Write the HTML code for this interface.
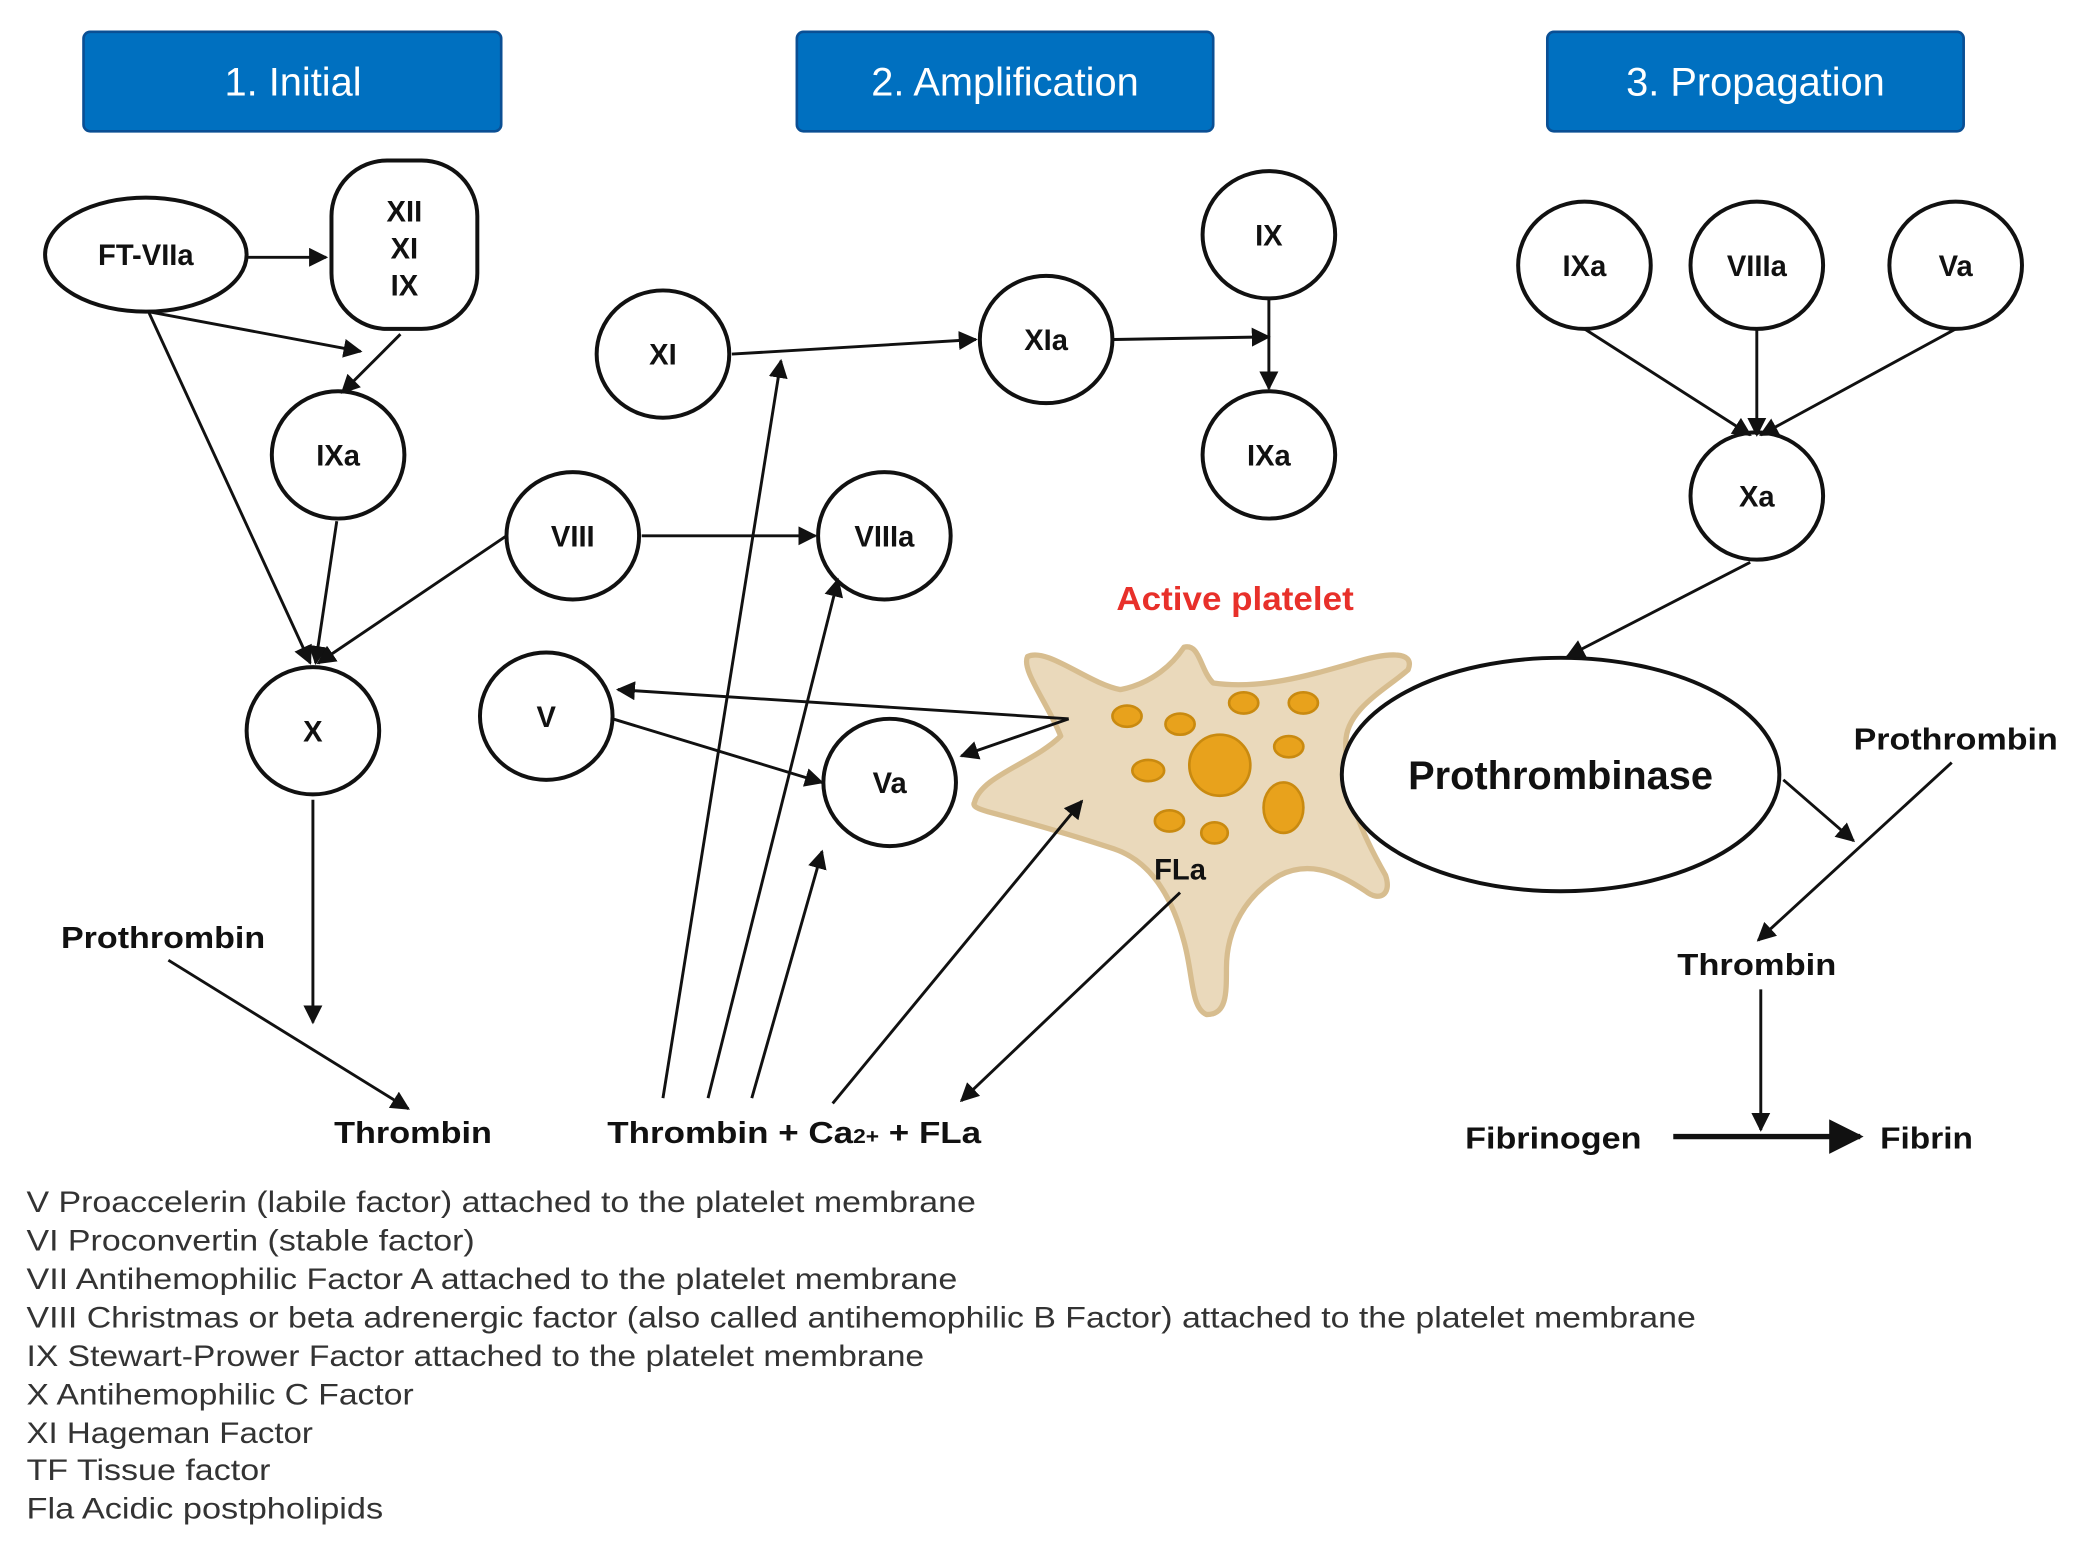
<!DOCTYPE html>
<html><head><meta charset="utf-8"><style>
html,body{margin:0;padding:0;background:#fff;}
svg{display:block;}
text{font-family:"Liberation Sans Narrow","Liberation Sans",sans-serif;}
.n{font-weight:bold;font-size:22px;fill:#111;text-anchor:middle;}
.l{font-weight:bold;font-size:23px;fill:#111;}
.lg{font-size:22px;fill:#333;}
.h{font-size:30px;fill:#fff;text-anchor:middle;}
</style></head><body>
<svg width="2079" height="1557" viewBox="0 0 1568 1174" preserveAspectRatio="none" xmlns="http://www.w3.org/2000/svg">
<defs>
<marker id="a" viewBox="0 0 10 10" refX="9" refY="5" markerWidth="6.5" markerHeight="6.5" orient="auto-start-reverse"><path d="M0,0L10,5L0,10z" fill="#111"/></marker>
</defs>
<g stroke="#0a4f94" stroke-width="2" fill="#0070c0">
<rect x="63" y="24" width="315" height="75" rx="5"/>
<rect x="601" y="24" width="314" height="75" rx="5"/>
<rect x="1167" y="24" width="314" height="75" rx="5"/>
</g>
<text class="h" x="221" y="72">1. Initial</text>
<text class="h" x="758" y="72">2. Amplification</text>
<text class="h" x="1324" y="72">3. Propagation</text>

<g fill="#ead9bb" stroke="#d7bd8f" stroke-width="4" stroke-linejoin="round">
<path d="M735,605 C740,585 780,575 800,555 C790,530 770,505 775,495 C790,488 820,515 845,520 C870,515 885,500 893,488 C905,485 905,505 915,515 C950,520 985,510 1020,500 C1045,492 1068,490 1062,505 C1045,520 1015,535 1015,560 C1015,600 1025,625 1045,660 C1050,675 1040,680 1030,672 C1005,655 985,650 965,660 C940,675 925,700 925,730 C925,750 925,765 910,765 C898,760 900,735 893,710 C885,680 870,650 840,640 C810,630 775,620 745,612 C738,610 733,608 735,605 Z"/>
</g>
<g fill="#e8a21c" stroke="#c98a10" stroke-width="2">
<circle cx="920" cy="577" r="23"/>
<ellipse cx="968" cy="609" rx="15" ry="19"/>
<ellipse cx="850" cy="540" rx="11" ry="8"/>
<ellipse cx="890" cy="546" rx="11" ry="8"/>
<ellipse cx="938" cy="530" rx="11" ry="8"/>
<ellipse cx="983" cy="530" rx="11" ry="8"/>
<ellipse cx="972" cy="563" rx="11" ry="8"/>
<ellipse cx="866" cy="581" rx="12" ry="8"/>
<ellipse cx="882" cy="619" rx="11" ry="8"/>
<ellipse cx="916" cy="628" rx="10" ry="8"/>
</g>
<text x="842" y="460" textLength="179" lengthAdjust="spacingAndGlyphs" style="font-weight:bold;font-size:25px;fill:#e8302a">Active platelet</text>
<text class="n" x="890" y="663">FLa</text>

<g fill="#fff" stroke="#111" stroke-width="3">
<ellipse cx="110" cy="192" rx="76" ry="43"/>
<rect x="250" y="121" width="110" height="127" rx="42"/>
<ellipse cx="255" cy="343" rx="50" ry="48"/>
<ellipse cx="236" cy="551" rx="50" ry="48"/>
<ellipse cx="432" cy="404" rx="50" ry="48"/>
<ellipse cx="500" cy="267" rx="50" ry="48"/>
<ellipse cx="789" cy="256" rx="50" ry="48"/>
<ellipse cx="957" cy="177" rx="50" ry="48"/>
<ellipse cx="957" cy="343" rx="50" ry="48"/>
<ellipse cx="667" cy="404" rx="50" ry="48"/>
<ellipse cx="412" cy="540" rx="50" ry="48"/>
<ellipse cx="671" cy="590" rx="50" ry="48"/>
<ellipse cx="1195" cy="200" rx="50" ry="48"/>
<ellipse cx="1325" cy="200" rx="50" ry="48"/>
<ellipse cx="1475" cy="200" rx="50" ry="48"/>
<ellipse cx="1325" cy="374" rx="50" ry="48"/>
<ellipse cx="1177" cy="584" rx="165" ry="88"/>
</g>
<text class="n" x="110" y="200">FT-VIIa</text>
<text class="n" x="305" y="167">XII</text>
<text class="n" x="305" y="195">XI</text>
<text class="n" x="305" y="223">IX</text>
<text class="n" x="255" y="351">IXa</text>
<text class="n" x="236" y="559">X</text>
<text class="n" x="432" y="412">VIII</text>
<text class="n" x="500" y="275">XI</text>
<text class="n" x="789" y="264">XIa</text>
<text class="n" x="957" y="185">IX</text>
<text class="n" x="957" y="351">IXa</text>
<text class="n" x="667" y="412">VIIIa</text>
<text class="n" x="412" y="548">V</text>
<text class="n" x="671" y="598">Va</text>
<text class="n" x="1195" y="208">IXa</text>
<text class="n" x="1325" y="208">VIIIa</text>
<text class="n" x="1475" y="208">Va</text>
<text class="n" x="1325" y="382">Xa</text>
<text class="n" x="1177" y="595" style="font-size:30px">Prothrombinase</text>

<g stroke="#111" stroke-width="2.2" fill="none" marker-end="url(#a)">
<path d="M187,194L246,194"/>
<path d="M112,235L272,265"/>
<path d="M302,252L258,296"/>
<path d="M112,235L234,500"/>
<path d="M254,393L238,500"/>
<path d="M382,404L240,500"/>
<path d="M236,603L236,771"/>
<path d="M127,724L308,836"/>
<path d="M484,404L615,404"/>
<path d="M552,267L736,256"/>
<path d="M840,256L957,254"/>
<path d="M957,226L957,293"/>
<path d="M500,828L589,272"/>
<path d="M534,828L632,437"/>
<path d="M567,828L620,642"/>
<path d="M628,832L816,604"/>
<path d="M890,673L725,830"/>
<path d="M806,542L466,520"/>
<path d="M806,542L725,570"/>
<path d="M462,542L620,590"/>
<path d="M1195,248L1320,328"/>
<path d="M1325,248L1325,328"/>
<path d="M1475,248L1328,328"/>
<path d="M1320,424L1182,495"/>
<path d="M1345,588L1398,634"/>
<path d="M1472,575L1326,709"/>
<path d="M1328,746L1328,852"/>
<path d="M1262,857L1403,857" stroke-width="4"/>
</g>

<text class="l" x="46" y="715" textLength="154" lengthAdjust="spacingAndGlyphs">Prothrombin</text>
<text class="l" x="252" y="862" textLength="119" lengthAdjust="spacingAndGlyphs">Thrombin</text>
<text class="l" x="458" y="862" textLength="282" lengthAdjust="spacingAndGlyphs">Thrombin + Ca<tspan style="font-size:15px">2+</tspan>  + FLa</text>
<text class="l" x="1398" y="565" textLength="154" lengthAdjust="spacingAndGlyphs">Prothrombin</text>
<text class="l" x="1265" y="735" textLength="120" lengthAdjust="spacingAndGlyphs">Thrombin</text>
<text class="l" x="1105" y="866" textLength="133" lengthAdjust="spacingAndGlyphs">Fibrinogen</text>
<text class="l" x="1418" y="866" textLength="70" lengthAdjust="spacingAndGlyphs">Fibrin</text>

<text class="lg" x="20" y="914" textLength="716" lengthAdjust="spacingAndGlyphs">V Proaccelerin (labile factor) attached to the platelet membrane</text>
<text class="lg" x="20" y="943" textLength="338" lengthAdjust="spacingAndGlyphs">VI Proconvertin (stable factor)</text>
<text class="lg" x="20" y="972" textLength="702" lengthAdjust="spacingAndGlyphs">VII Antihemophilic Factor A attached to the platelet membrane</text>
<text class="lg" x="20" y="1001" textLength="1259" lengthAdjust="spacingAndGlyphs">VIII Christmas or beta adrenergic factor (also called antihemophilic B Factor) attached to the platelet membrane</text>
<text class="lg" x="20" y="1030" textLength="677" lengthAdjust="spacingAndGlyphs">IX Stewart-Prower Factor attached to the platelet membrane</text>
<text class="lg" x="20" y="1059" textLength="292" lengthAdjust="spacingAndGlyphs">X Antihemophilic C Factor</text>
<text class="lg" x="20" y="1088" textLength="216" lengthAdjust="spacingAndGlyphs">XI Hageman Factor</text>
<text class="lg" x="20" y="1116" textLength="184" lengthAdjust="spacingAndGlyphs">TF Tissue factor</text>
<text class="lg" x="20" y="1145" textLength="269" lengthAdjust="spacingAndGlyphs">Fla Acidic postpholipids</text>
</svg>
</body></html>
